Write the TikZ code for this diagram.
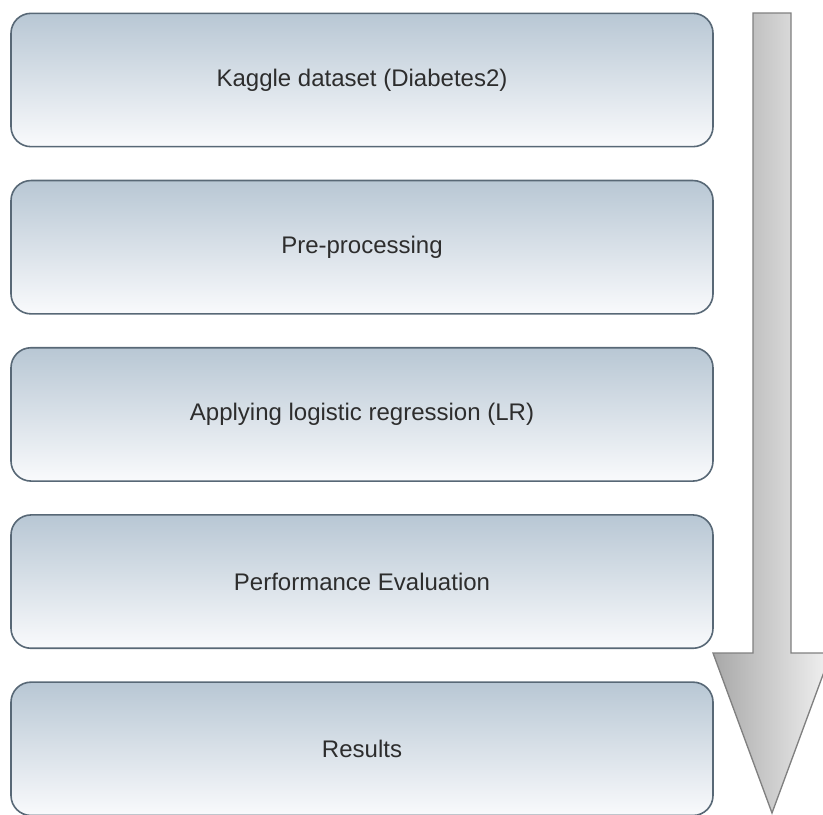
\documentclass[tikz,border=0pt]{standalone}
\usepackage{fontspec}
\setmainfont{Liberation Sans}
\usetikzlibrary{positioning}
\definecolor{boxline}{RGB}{88,104,118}
\definecolor{boxtop}{RGB}{184,199,212}
\definecolor{boxbot}{RGB}{249,250,252}
\definecolor{arrowline}{RGB}{128,128,128}
\definecolor{arrowleft}{RGB}{168,168,168}
\definecolor{arrowright}{RGB}{242,242,242}
\definecolor{txt}{RGB}{45,45,45}
\tikzstyle{stage} = [rectangle, rounded corners=15pt, minimum width=526.5pt, minimum height=100pt, text centered, draw=boxline, line width=1.2pt, top color=boxtop, bottom color=boxbot, text=txt, font=\fontsize{18}{21}\selectfont]
\tikzstyle{flow} = [draw=arrowline, line width=1pt, left color=arrowleft, right color=arrowright]
\begin{document}
\begin{tikzpicture}[x=0.75pt, y=-0.75pt, node distance=24.2pt]
%background
\useasboundingbox (0,0) rectangle (823,814);
\clip (0,0) rectangle (823,814);
%stages
\node (data) [stage] at (362,80) {Kaggle dataset (Diabetes2)};
\node (prep) [stage, below=of data] {Pre-processing};
\node (lr) [stage, below=of prep] {Applying logistic regression (LR)};
\node (eval) [stage, below=of lr] {Performance Evaluation};
\node (res) [stage, below=of eval] {Results};
%big arrow
\draw [flow] (753,13) -- (791,13) -- (791,653) -- (831,653) -- (772,813) -- (713,653) -- (753,653) -- cycle;
\end{tikzpicture}
\end{document}
